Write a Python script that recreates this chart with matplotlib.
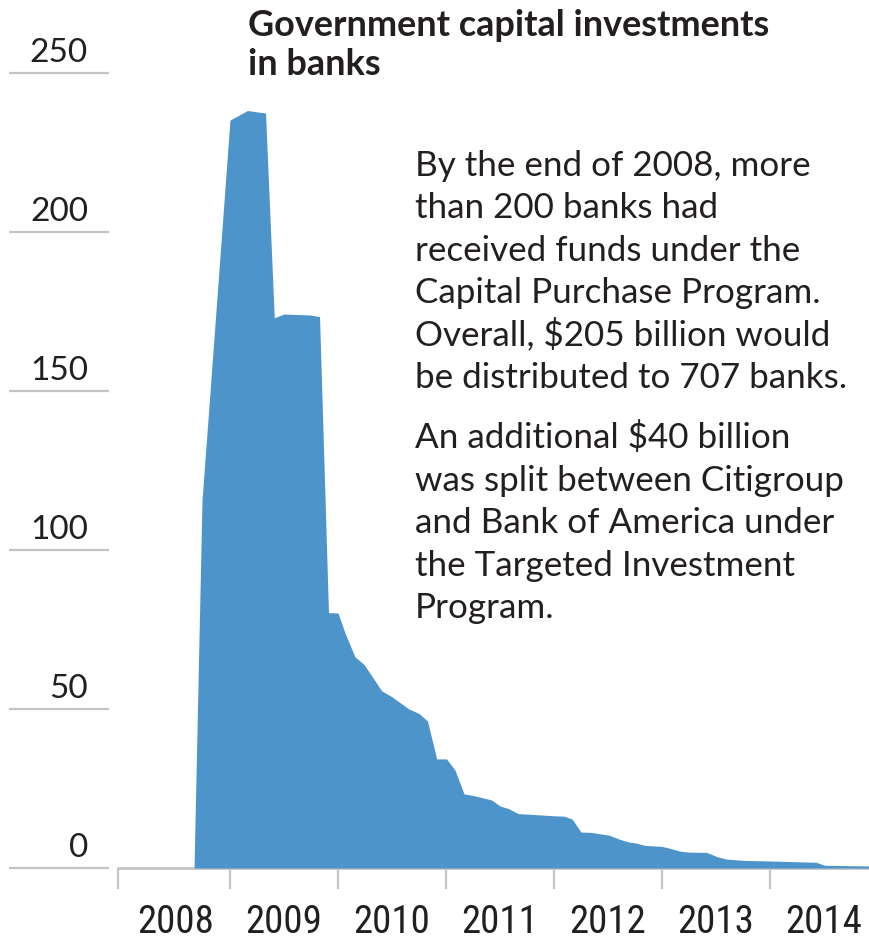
import matplotlib
matplotlib.use("Agg")
import matplotlib.pyplot as plt
import matplotlib.transforms as mtransforms
from matplotlib import font_manager as fm

# --- data: outstanding capital investments (billions of dollars) ---
years = [2008.667, 2008.741, 2008.796, 2009.000, 2009.162, 2009.329, 2009.410,
         2009.500, 2009.741, 2009.829, 2009.912, 2010.000, 2010.065, 2010.157,
         2010.241, 2010.405, 2010.497, 2010.657, 2010.750, 2010.829, 2010.914,
         2011.005, 2011.083, 2011.167, 2011.253, 2011.421, 2011.500, 2011.579,
         2011.667, 2011.778, 2012.009, 2012.093, 2012.167, 2012.250, 2012.343,
         2012.512, 2012.611, 2012.688, 2012.766, 2012.843, 2012.997, 2013.074,
         2013.167, 2013.244, 2013.414, 2013.507, 2013.599, 2013.753, 2014.120,
         2014.306, 2014.426, 2014.509, 2014.917]
values = [0.0, 115.7, 140.9, 235.2, 238.2, 237.4, 173.0,
          174.2, 173.9, 173.4, 80.3, 80.2, 73.9, 66.4,
          64.0, 55.7, 53.9, 50.0, 48.6, 46.2, 34.3,
          34.3, 30.8, 23.3, 22.8, 21.4, 19.5, 18.7,
          17.1, 16.9, 16.4, 16.3, 15.4, 11.3, 11.2,
          10.3, 9.0, 8.2, 7.8, 7.1, 6.8, 6.2,
          5.3, 5.0, 4.9, 3.6, 2.8, 2.4, 2.1,
          1.9, 1.8, 0.85, 0.63]

y_ticks = [0, 50, 100, 150, 200, 250]
year_labels = ["2008", "2009", "2010", "2011", "2012", "2013", "2014"]

title_lines = ["Government capital investments", "in banks"]
note_para1 = ["By the end of 2008, more",
              "than 200 banks had",
              "received funds under the",
              "Capital Purchase Program.",
              "Overall, $205 billion would",
              "be distributed to 707 banks."]
note_para2 = ["An additional $40 billion",
              "was split between Citigroup",
              "and Bank of America under",
              "the Targeted Investment",
              "Program."]


def pick(*names):
    for n in names:
        try:
            fm.findfont(fm.FontProperties(family=n), fallback_to_default=False)
            return n
        except ValueError:
            pass
    return "DejaVu Sans"


TEXT_FONT = pick("Lato", "Open Sans", "Liberation Sans")
NARROW_FONT = pick("Liberation Sans Narrow", "Roboto Condensed", "Liberation Sans")

INK = "#231f20"
BLUE = "#4c94c9"
GREY = "#c4c4c4"

W, H = 869, 940
fig = plt.figure(figsize=(W / 100, H / 100), dpi=100)

PX_PER_UNIT = 3.18
x0_px, x1_px, base_px = 118, 869, 868
ymax = 262
ax = fig.add_axes([x0_px / W, (H - base_px) / H, (x1_px - x0_px) / W,
                   ymax * PX_PER_UNIT / H])
ax.set_xlim(2007.963, 2014.917)
ax.set_ylim(0, ymax)

ax.fill_between(years, values, 0, color=BLUE, lw=0, zorder=2)

for s in ("top", "left", "right"):
    ax.spines[s].set_visible(False)
ax.spines["bottom"].set_color(GREY)
ax.spines["bottom"].set_linewidth(2.0)
ax.spines["bottom"].set_zorder(1)

# year ticks plus a tick at the left end of the axis
ax.set_xticks([2007.963] + [2009 + i for i in range(6)])
ax.set_xticklabels([])
ax.tick_params(axis="x", which="major", length=15, width=1.6, color=GREY,
               direction="out")
ax.set_xticks([2008.5 + i for i in range(len(year_labels))], minor=True)
ax.set_xticklabels(year_labels, minor=True, fontsize=28, color=INK,
                   family=NARROW_FONT)
ax.tick_params(axis="x", which="minor", length=0, pad=26)
ax.set_yticks([])

# short gridlines and value labels to the left of the plot
blend = mtransforms.blended_transform_factory(ax.transAxes, ax.transData)
gx0 = (9 - x0_px) / (x1_px - x0_px)
gx1 = (109 - x0_px) / (x1_px - x0_px)
lx = (88 - x0_px) / (x1_px - x0_px)
for v in y_ticks:
    ax.plot([gx0, gx1], [v, v], transform=blend, color=GREY, lw=1.6,
            clip_on=False, solid_capstyle="butt")
    ax.annotate(str(v), xy=(lx, v), xycoords=blend, xytext=(0, 8),
                textcoords="offset points", ha="right", va="baseline",
                fontsize=24, color=INK, family=TEXT_FONT)


def fig_xy(px, py):
    return px / W, 1 - py / H


for line, by in zip(title_lines, [36, 75]):
    fig.text(*fig_xy(248, by), line, fontsize=25.9, fontweight="bold",
             color=INK, family=TEXT_FONT, ha="left", va="baseline")

step = 42.4
for i, line in enumerate(note_para1):
    fig.text(*fig_xy(415, 176 + i * step), line, fontsize=25.2, color=INK,
             family=TEXT_FONT, ha="left", va="baseline")
for i, line in enumerate(note_para2):
    fig.text(*fig_xy(415, 448.3 + i * step), line, fontsize=25.2, color=INK,
             family=TEXT_FONT, ha="left", va="baseline")

fig.savefig("out.png", dpi=100)
